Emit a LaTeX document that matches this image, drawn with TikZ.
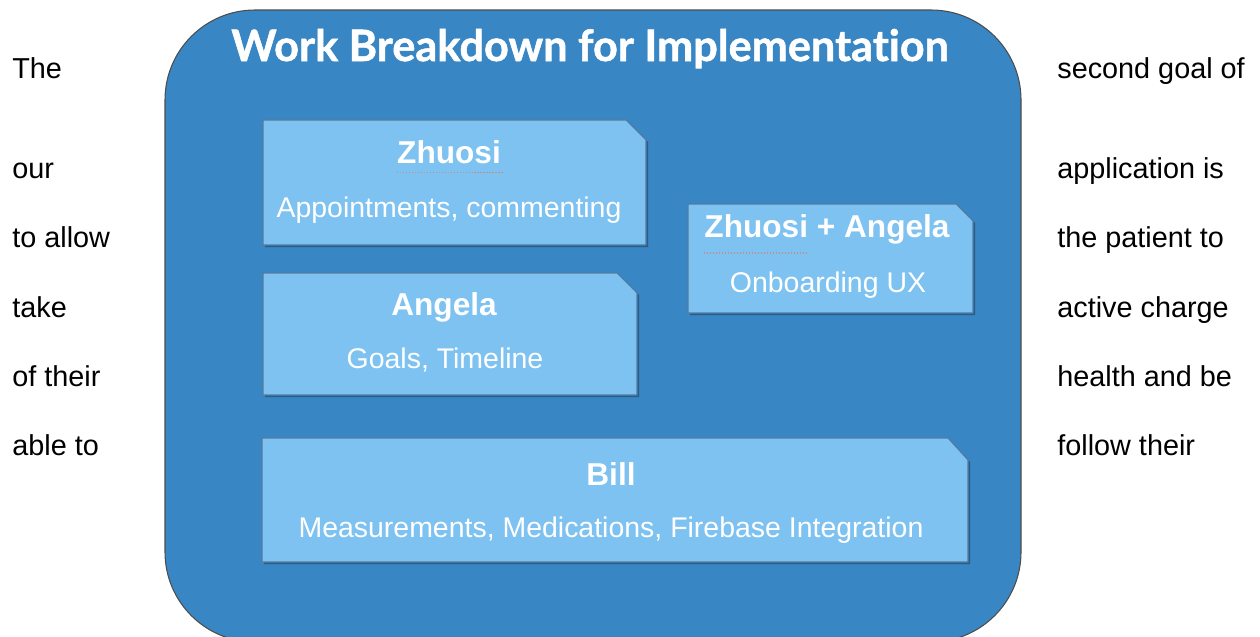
\documentclass[tikz,border=0pt]{standalone}
\usepackage{fontspec}
\setmainfont{Liberation Sans}
\newfontfamily\latofont[Ligatures={NoCommon,NoContextual}, BoldFeatures={FakeBold=1.2}]{Lato}

\definecolor{panelblue}{RGB}{56,134,196}
\definecolor{cardblue}{RGB}{125,194,240}
\definecolor{cardedge}{RGB}{84,122,160}
\definecolor{spellred}{RGB}{196,140,140}

\begin{document}
\begin{tikzpicture}[x=0.02cm, y=-0.02cm,
	card/.style={fill=cardblue, draw=cardedge, line width=0.6pt},
	cardshadow/.style={fill=black, opacity=0.3},
	who/.style={text=white, anchor=base, inner sep=0pt, font=\fontsize{18}{18}\selectfont\bfseries},
	task/.style={text=white, anchor=base, inner sep=0pt, font=\fontsize{16.2}{16}\selectfont},
	sidetext/.style={anchor=base west, inner sep=0pt, font=\fontsize{16.4}{16}\selectfont},
	spell/.style={spellred, densely dotted, line width=0.7pt}]
	\useasboundingbox (0,0) rectangle (1260,636);

	% Синяя панель
	\draw[fill=panelblue, draw=gray!60!black, line width=0.6pt, rounded corners=1.8cm] (165,10) rectangle (1021,642);
	\node[text=white, anchor=base, inner sep=0pt, font=\latofont\bfseries\fontsize{24.6}{25}\selectfont] (heading) at (590,61) {Work Breakdown for Implementation};

	% Карточки
	\fill[cardshadow] (265,122) -- (628,122) -- (648,142) -- (648,247) -- (265,247) -- cycle;
	\draw[card] (263,120) -- (626,120) -- (646,140) -- (646,245) -- (263,245) -- cycle;
	\fill[cardshadow] (690,206) -- (958,206) -- (975,223) -- (975,315) -- (690,315) -- cycle;
	\draw[card] (688,204) -- (956,204) -- (973,221) -- (973,313) -- (688,313) -- cycle;
	\fill[cardshadow] (265,275) -- (619,275) -- (639,295) -- (639,397) -- (265,397) -- cycle;
	\draw[card] (263,273) -- (617,273) -- (637,293) -- (637,395) -- (263,395) -- cycle;
	\fill[cardshadow] (264,440) -- (950,440) -- (970,462) -- (970,564) -- (264,564) -- cycle;
	\draw[card] (262,438) -- (948,438) -- (968,460) -- (968,562) -- (262,562) -- cycle;

	% Подписи карточек
	\node[who] (zhuosi) at (449,163) {Zhuosi};
	\node[task] (zhuosiTasks) at (449,217) {Appointments, commenting};
	\draw[spell] (zhuosi.south west) ++(0,9) -- ++(107,0);

	\node[who] (team) at (827,237) {Zhuosi + Angela};
	\node[task] (teamTasks) at (828,292) {Onboarding UX};
	\draw[spell] (team.south west) ++(0,9) -- ++(104,0);

	\node[who] (angela) at (444,315) {Angela};
	\node[task] (angelaTasks) at (445,368) {Goals, Timeline};

	\node[who] (bill) at (611,485) {Bill};
	\node[task] (billTasks) at (611,537) {Measurements, Medications, Firebase Integration};

	% Текст по бокам
	\node[sidetext] (leftA) at (12,78) {The};
	\node[sidetext] (leftB) at (12,178) {our};
	\node[sidetext] (leftC) at (12,247) {to allow};
	\node[sidetext] (leftD) at (12,317) {take};
	\node[sidetext] (leftE) at (12,386) {of their};
	\node[sidetext] (leftF) at (12,455) {able to};

	\node[sidetext] (rightA) at (1057,78) {second goal of};
	\node[sidetext] (rightB) at (1057,178) {application is};
	\node[sidetext] (rightC) at (1057,247) {the patient to};
	\node[sidetext] (rightD) at (1057,317) {active charge};
	\node[sidetext] (rightE) at (1057,386) {health and be};
	\node[sidetext] (rightF) at (1057,455) {follow their};
\end{tikzpicture}
\end{document}
